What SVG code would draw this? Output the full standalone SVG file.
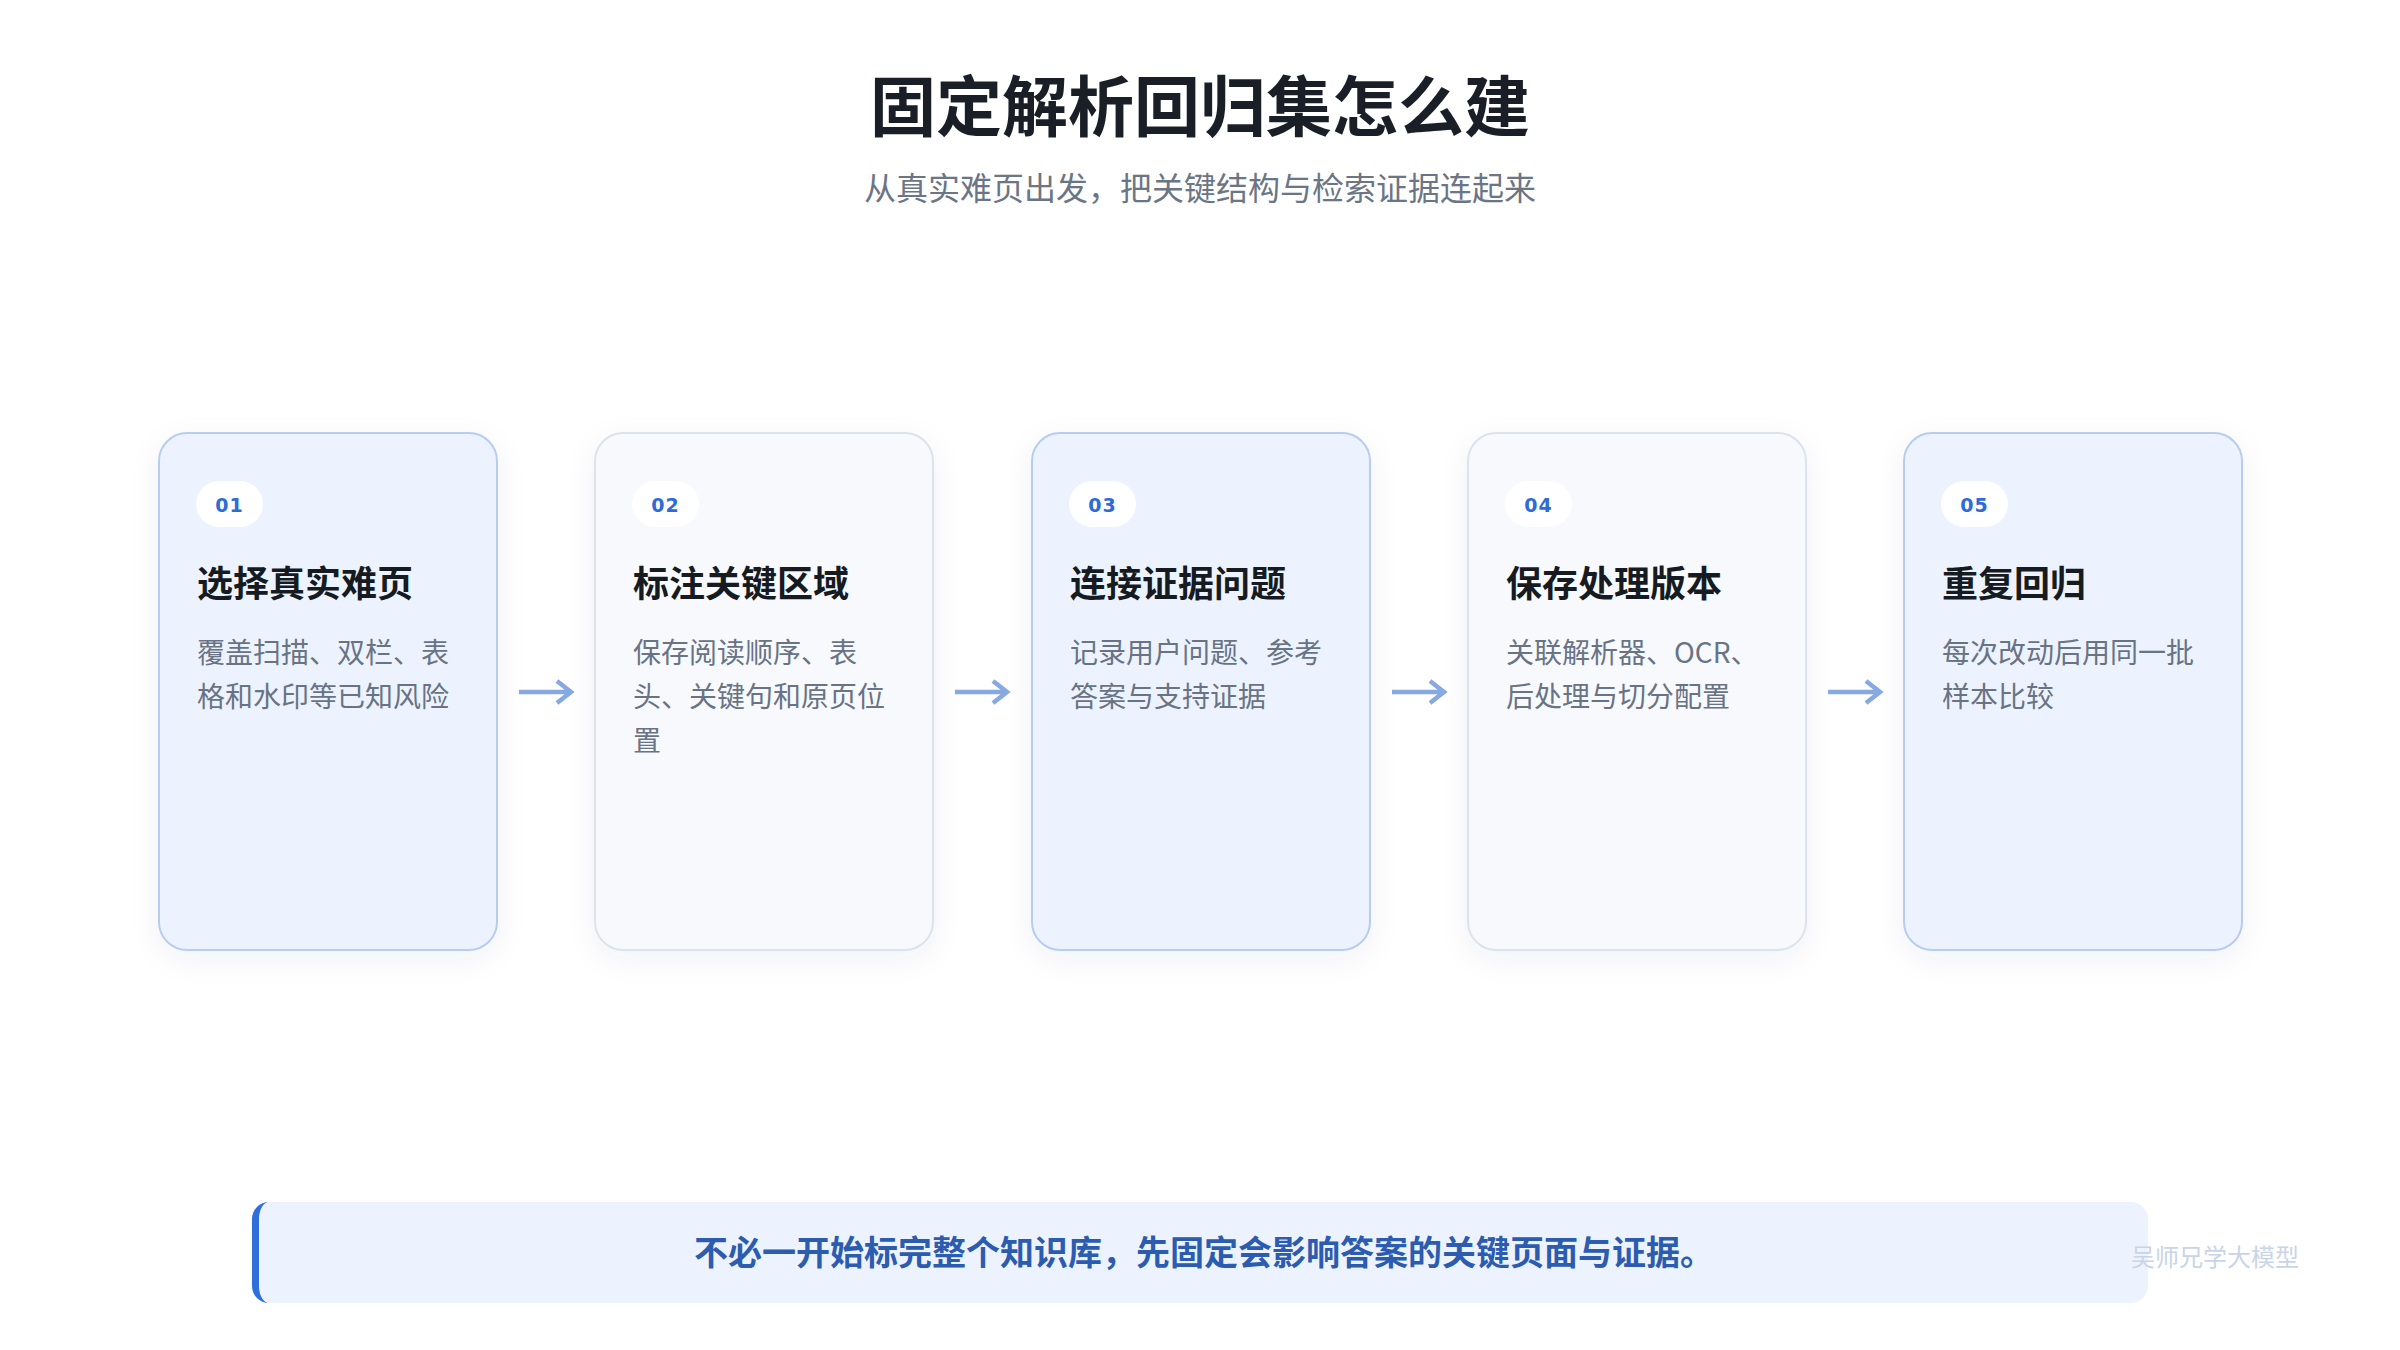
<svg xmlns="http://www.w3.org/2000/svg" width="2400" height="1350" viewBox="0 0 2400 1350">
  <defs>
    <filter id="shadow" x="-20%" y="-20%" width="140%" height="140%">
      <feDropShadow dx="0" dy="8" stdDeviation="14" flood-color="#1E3A6B" flood-opacity="0.06"/>
    </filter>
    <style>
      .cjk { font-family: "Noto Sans CJK SC", "Noto Sans", sans-serif; }
      .title { font-size: 66px; font-weight: 700; fill: #1A1F27; }
      .subtitle { font-size: 32px; font-weight: 400; fill: #6B7585; }
      .card-blue { fill: #EDF3FE; stroke: #B7CDF0; stroke-width: 2; }
      .card-gray { fill: #F7F9FC; stroke: #DCE3ED; stroke-width: 2; }
      .badge { fill: #FFFFFF; }
      .badge-text { font-family: "DejaVu Sans", "Liberation Sans", sans-serif; font-size: 19px; font-weight: 700; fill: #2E6BD6; letter-spacing: 1px; }
      .card-title { font-size: 36px; font-weight: 700; fill: #161B22; }
      .card-desc { font-size: 28px; font-weight: 400; fill: #687385; }
      .arrow { fill: none; stroke: #86A9E2; stroke-width: 4.5; stroke-linejoin: miter; }
      .callout-text { font-size: 34px; font-weight: 700; fill: #2B5CB0; }
      .watermark { font-size: 24px; font-weight: 400; fill: #C9D4E6; }
    </style>
  </defs>

  <rect x="0" y="0" width="2400" height="1350" fill="#FFFFFF"/>

  <g id="header">
    <text class="cjk title" x="1200" y="131" text-anchor="middle">固定解析回归集怎么建</text>
    <text class="cjk subtitle" x="1200" y="200" text-anchor="middle">从真实难页出发，把关键结构与检索证据连起来</text>
  </g>

  <g id="step-01">
    <rect class="card-blue" x="159" y="433" width="338" height="517" rx="28" filter="url(#shadow)"/>
    <rect class="badge" x="196" y="481" width="67" height="46" rx="23"/>
    <text class="badge-text" x="229.5" y="512" text-anchor="middle">01</text>
    <text class="cjk card-title" x="197" y="597">选择真实难页</text>
    <text class="cjk card-desc" x="197" y="663">覆盖扫描、双栏、表</text>
    <text class="cjk card-desc" x="197" y="707">格和水印等已知风险</text>
  </g>

  <g id="step-02">
    <rect class="card-gray" x="595" y="433" width="338" height="517" rx="28" filter="url(#shadow)"/>
    <rect class="badge" x="632" y="481" width="67" height="46" rx="23"/>
    <text class="badge-text" x="665.5" y="512" text-anchor="middle">02</text>
    <text class="cjk card-title" x="633" y="597">标注关键区域</text>
    <text class="cjk card-desc" x="633" y="663">保存阅读顺序、表</text>
    <text class="cjk card-desc" x="633" y="707">头、关键句和原页位</text>
    <text class="cjk card-desc" x="633" y="751">置</text>
  </g>

  <g id="step-03">
    <rect class="card-blue" x="1032" y="433" width="338" height="517" rx="28" filter="url(#shadow)"/>
    <rect class="badge" x="1069" y="481" width="67" height="46" rx="23"/>
    <text class="badge-text" x="1102.5" y="512" text-anchor="middle">03</text>
    <text class="cjk card-title" x="1070" y="597">连接证据问题</text>
    <text class="cjk card-desc" x="1070" y="663">记录用户问题、参考</text>
    <text class="cjk card-desc" x="1070" y="707">答案与支持证据</text>
  </g>

  <g id="step-04">
    <rect class="card-gray" x="1468" y="433" width="338" height="517" rx="28" filter="url(#shadow)"/>
    <rect class="badge" x="1505" y="481" width="67" height="46" rx="23"/>
    <text class="badge-text" x="1538.5" y="512" text-anchor="middle">04</text>
    <text class="cjk card-title" x="1506" y="597">保存处理版本</text>
    <text class="cjk card-desc" x="1506" y="663">关联解析器、OCR、</text>
    <text class="cjk card-desc" x="1506" y="707">后处理与切分配置</text>
  </g>

  <g id="step-05">
    <rect class="card-blue" x="1904" y="433" width="338" height="517" rx="28" filter="url(#shadow)"/>
    <rect class="badge" x="1941" y="481" width="67" height="46" rx="23"/>
    <text class="badge-text" x="1974.5" y="512" text-anchor="middle">05</text>
    <text class="cjk card-title" x="1942" y="597">重复回归</text>
    <text class="cjk card-desc" x="1942" y="663">每次改动后用同一批</text>
    <text class="cjk card-desc" x="1942" y="707">样本比较</text>
  </g>

  <g id="connectors">
    <path class="arrow" d="M519 692 H571 M557 681 L571 692 L557 703"/>
    <path class="arrow" d="M955 692 H1007 M993 681 L1007 692 L993 703"/>
    <path class="arrow" d="M1392 692 H1444 M1430 681 L1444 692 L1430 703"/>
    <path class="arrow" d="M1828 692 H1880 M1866 681 L1880 692 L1866 703"/>
  </g>

  <g id="callout">
    <rect x="252" y="1202" width="1896" height="101" rx="17" fill="#EDF3FE"/>
    <path d="M269 1202 A17 17 0 0 0 252 1219 V1286 A17 17 0 0 0 269 1303 A10 17 0 0 1 259 1286 V1219 A10 17 0 0 1 269 1202 Z" fill="#2F6FDB"/>
    <text class="cjk callout-text" x="1204" y="1265" text-anchor="middle">不必一开始标完整个知识库，先固定会影响答案的关键页面与证据。</text>
  </g>

  <g id="watermark">
    <text class="cjk watermark" x="2131" y="1266">吴师兄学大模型</text>
  </g>
</svg>
